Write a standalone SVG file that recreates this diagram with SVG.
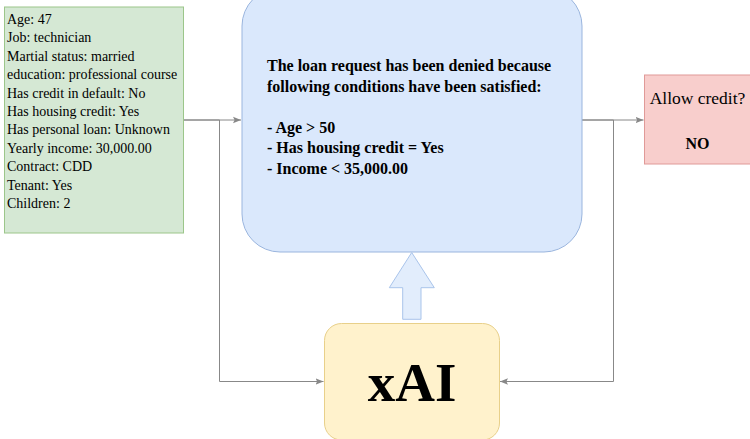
<svg xmlns="http://www.w3.org/2000/svg" width="750" height="439" viewBox="0 0 750 439">
  <style>
    .serif { font-family: "Liberation Serif", "Times New Roman", serif; fill: #000; }
    .edge { fill: none; stroke: #888; stroke-width: 1; }
  </style>
  <defs>
    <marker id="arr" viewBox="0 0 8 8" refX="8" refY="4" markerWidth="8" markerHeight="8" markerUnits="userSpaceOnUse" orient="auto">
      <path d="M0,0.8 L8,4 L0,7.2 L1.6,4 Z" fill="#888"/>
    </marker>
  </defs>
  <rect width="750" height="439" fill="#fff"/>

  <g id="connectors">
    <path class="edge" d="M184,120 H241" marker-end="url(#arr)"/>
    <path class="edge" d="M184,120 H219.5 V381.5 H323.5" marker-end="url(#arr)"/>
    <path class="edge" d="M582,120 H643.5" marker-end="url(#arr)"/>
    <path class="edge" d="M582,120 H613.5 V381.5 H500" marker-end="url(#arr)"/>
  </g>

  <g id="input">
    <rect x="4.5" y="7" width="179" height="226" fill="#d5e8d4" stroke="#9cc68a" stroke-width="1"/>
    <g class="serif" font-size="14">
      <text x="7" y="24">Age: 47</text>
      <text x="7" y="42.4">Job: technician</text>
      <text x="7" y="60.8">Martial status: married</text>
      <text x="7" y="79.2">education: professional course</text>
      <text x="7" y="97.6">Has credit in default: No</text>
      <text x="7" y="116">Has housing credit: Yes</text>
      <text x="7" y="134.4">Has personal loan: Unknown</text>
      <text x="7" y="152.8">Yearly income: 30,000.00</text>
      <text x="7" y="171.2">Contract: CDD</text>
      <text x="7" y="189.6">Tenant: Yes</text>
      <text x="7" y="208">Children: 2</text>
    </g>
  </g>

  <g id="explanation">
    <rect x="242" y="-12" width="340" height="264" rx="38" ry="38" fill="#dae8fc" stroke="#9ab5de" stroke-width="1"/>
    <g class="serif" font-size="16" font-weight="bold">
      <text x="267" y="71">The loan request has been denied because</text>
      <text x="267" y="91.5">following conditions have been satisfied:</text>
      <text x="267" y="132.5">- Age &gt; 50</text>
      <text x="267" y="153">- Has housing credit = Yes</text>
      <text x="267" y="173.5">- Income &lt; 35,000.00</text>
    </g>
  </g>

  <g id="decision">
    <rect x="644.5" y="75" width="106" height="89" fill="#f8cecc" stroke="#e09a98" stroke-width="1"/>
    <text class="serif" x="697.5" y="104" font-size="17.5" text-anchor="middle">Allow credit?</text>
    <text class="serif" x="697.5" y="149" font-size="16" font-weight="bold" text-anchor="middle">NO</text>
  </g>

  <g id="block-arrow">
    <path d="M411.7,252.5 L434.3,287.7 L421,287.7 L421,319.3 L402.7,319.3 L402.7,287.7 L389.3,287.7 Z" fill="#e2edfc" stroke="#a9c4eb" stroke-width="1"/>
  </g>

  <g id="xai">
    <rect x="324.5" y="323.5" width="175" height="116.5" rx="17" ry="17" fill="#fff2cc" stroke="#e8d08a" stroke-width="1"/>
    <text class="serif" x="412" y="401" font-size="55" font-weight="bold" text-anchor="middle">xAI</text>
  </g>
</svg>
